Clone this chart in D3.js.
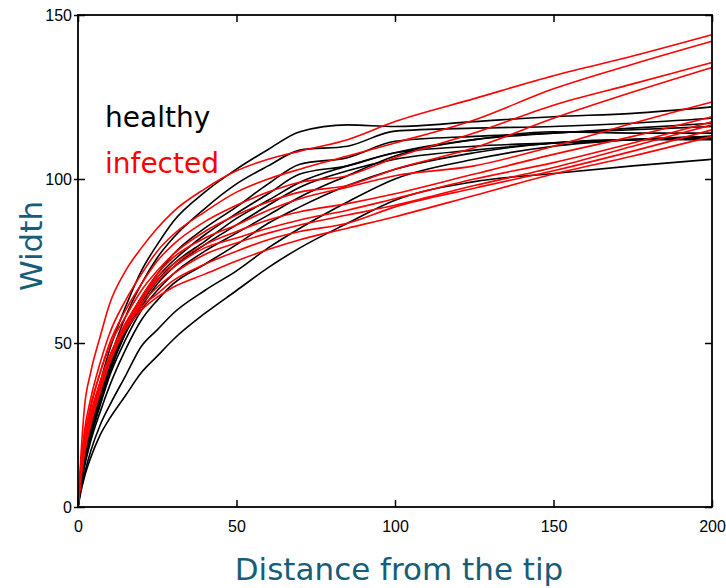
<!DOCTYPE html>
<html>
<head>
<meta charset="utf-8">
<script src="https://cdnjs.cloudflare.com/ajax/libs/d3/7.8.5/d3.min.js"></script>
<style>
	body { margin: 0; background: #fff; }
</style>
</head>
<body>
<div id="chart"></div>
<script>
// distance from the tip, shared by every curve
var distance = [0, 1, 2, 4, 7, 10, 15, 20, 25, 30, 40, 50, 60, 70, 85, 100, 125, 150, 175, 200];

// width of each healthy root
var healthy = [
	[0, 10, 17, 27, 38, 48, 61, 72, 80, 87, 96, 103, 109, 114.4, 116.5, 116, 117.5, 119, 120, 122],
	[0, 9, 16, 25, 35, 45, 58, 68, 76, 82, 91, 98.5, 104, 108.8, 110, 114.6, 115.5, 116, 117, 118.5],
	[0, 9, 15, 24, 34, 43, 55, 64, 71, 77, 85, 91.5, 98.5, 104.5, 106.5, 111.5, 113, 114, 115.5, 117],
	[0, 8, 14, 23, 33, 42, 54, 63, 70, 75, 83, 89.5, 95.5, 101.5, 104, 108, 110, 111, 112, 113],
	[0, 8, 14, 22, 32, 41, 53, 62, 69, 74, 81, 88, 93.5, 99, 104, 108, 112, 114, 115, 116],
	[0, 8, 14, 23, 33, 42, 53, 61, 68, 73, 80, 86, 92, 97.5, 102.5, 106, 108.8, 110.9, 112, 112.5],
	[0, 7, 13, 21, 31, 40, 51, 60, 66, 71, 78, 83.5, 89, 94.5, 101, 107, 112, 114.4, 114, 114],
	[0, 7, 12, 20, 29, 37, 48, 57, 63, 68, 74, 80, 86.5, 91.5, 98, 103, 108, 111, 112, 112],
	[0, 6, 10, 17, 25, 31, 40, 49, 54, 59, 66, 72, 79, 85, 93, 100, 106, 110, 112, 113],
	[0, 5, 9, 15, 22, 27, 34, 41, 46, 51, 59, 66, 73, 79, 86.5, 93.5, 99.2, 101.7, 104, 106]
];

// width of each infected root
var infected = [
	[0, 17, 30, 41, 52, 62, 72, 79, 85, 90, 97, 102.5, 106, 108.5, 112, 117.5, 124.5, 131.5, 137.5, 144],
	[0, 14, 23, 33, 44, 53, 63, 71, 78, 83, 90, 96, 100, 103, 107, 111, 118, 127.5, 135, 142],
	[0, 12, 20, 30, 41, 50, 60, 68, 75, 80, 87, 92, 96, 99, 101, 106.5, 114, 122.5, 129, 135.5],
	[0, 13, 21, 31, 41, 49, 58, 66, 72, 77, 84, 89, 93, 96, 98, 103, 109.5, 118.5, 126.5, 134],
	[0, 11, 19, 28, 38, 46, 56, 64, 71, 76, 82, 86, 90.5, 94, 97.5, 101, 104, 110, 117, 123.5],
	[0, 10, 17, 26, 36, 44, 55, 63, 70, 74, 80, 84, 87.5, 90, 92.5, 95.5, 101.5, 107.5, 113, 119],
	[0, 12, 19, 28, 38, 46, 56, 63, 69, 73, 79, 82, 85, 87.5, 90.5, 94, 100, 105, 111, 117.5],
	[0, 10, 17, 27, 37, 45, 55, 62, 67, 71, 77, 80.5, 83.5, 86, 89, 92, 98, 103.5, 110, 116.5],
	[0, 11, 18, 28, 38, 46, 55, 61, 65, 69, 74, 78, 81.5, 84, 86.5, 91.5, 97.2, 102.5, 108.5, 115],
	[0, 9, 16, 25, 35, 44, 54, 60, 64, 67, 71, 75, 78.5, 81.5, 85, 88.5, 95, 101.5, 107, 113]
];

var xTicks = [0, 50, 100, 150, 200];
var yTicks = [0, 50, 100, 150];

var margin = { top: 15, right: 14, bottom: 81, left: 78 },
	width = 726 - margin.left - margin.right,
	height = 588 - margin.top - margin.bottom;

var svg = d3.select("#chart")
	.append("svg")
	.attr("width", 726)
	.attr("height", 588)
	.append("g")
	.attr("transform", "translate(" + margin.left + "," + margin.top + ")");

var x = d3.scaleLinear().domain([0, 200]).range([0, width]);
var y = d3.scaleLinear().domain([0, 150]).range([height, 0]);

var line = d3.line()
	.x(function(d, i) { return x(distance[i]); })
	.y(function(d) { return y(d); })
	.curve(d3.curveMonotoneX);

// curves
svg.append("g")
	.selectAll("path")
	.data(healthy)
	.enter()
	.append("path")
	.attr("d", line)
	.attr("fill", "none")
	.attr("stroke", "#000")
	.attr("stroke-width", 1.6)
	.attr("stroke-linejoin", "round");

svg.append("g")
	.selectAll("path")
	.data(infected)
	.enter()
	.append("path")
	.attr("d", line)
	.attr("fill", "none")
	.attr("stroke", "#ff0000")
	.attr("stroke-width", 1.6)
	.attr("stroke-linejoin", "round");

// axes, ticks point inwards on all four sides
function styleAxis(g) {
	g.select(".domain").remove();
	g.selectAll(".tick line").attr("stroke", "#000").attr("stroke-width", 1.5);
	g.selectAll(".tick text")
		.style("font-family", "'Liberation Sans', Arial, sans-serif")
		.style("font-size", "16px")
		.attr("fill", "#000");
}

svg.append("g")
	.attr("transform", "translate(0," + height + ")")
	.call(d3.axisBottom(x).tickValues(xTicks).tickSizeInner(-7).tickSizeOuter(0).tickPadding(14))
	.call(styleAxis);

svg.append("g")
	.call(d3.axisTop(x).tickValues(xTicks).tickSizeInner(-7).tickSizeOuter(0).tickFormat(""))
	.call(styleAxis);

svg.append("g")
	.call(d3.axisLeft(y).tickValues(yTicks).tickSizeInner(-7).tickSizeOuter(0).tickPadding(6))
	.call(styleAxis)
	.selectAll(".tick line")
	.attr("x1", -4);

svg.append("g")
	.attr("transform", "translate(" + width + ",0)")
	.call(d3.axisRight(y).tickValues(yTicks).tickSizeInner(-7).tickSizeOuter(0).tickFormat(""))
	.call(styleAxis);

// frame
svg.append("rect")
	.attr("width", width)
	.attr("height", height)
	.attr("fill", "none")
	.attr("stroke", "#000")
	.attr("stroke-width", 1.8);

// axis titles
svg.append("text")
	.attr("x", width / 2 + 4)
	.attr("y", height + 73)
	.attr("text-anchor", "middle")
	.style("font-family", "'DejaVu Sans', Verdana, sans-serif")
	.style("font-size", "31px")
	.attr("fill", "#175d7a")
	.text("Distance from the tip");

svg.append("text")
	.attr("transform", "translate(-36," + (height / 2 - 15) + ") rotate(-90)")
	.attr("text-anchor", "middle")
	.style("font-family", "'DejaVu Sans', Verdana, sans-serif")
	.style("font-size", "31px")
	.attr("fill", "#175d7a")
	.text("Width");

// legend
svg.append("text")
	.attr("x", 27)
	.attr("y", 112)
	.style("font-family", "'DejaVu Sans', Verdana, sans-serif")
	.style("font-size", "28px")
	.attr("fill", "#000")
	.text("healthy");

svg.append("text")
	.attr("x", 27)
	.attr("y", 158)
	.style("font-family", "'DejaVu Sans', Verdana, sans-serif")
	.style("font-size", "28px")
	.attr("fill", "#ff0000")
	.text("infected");
</script>
</body>
</html>
